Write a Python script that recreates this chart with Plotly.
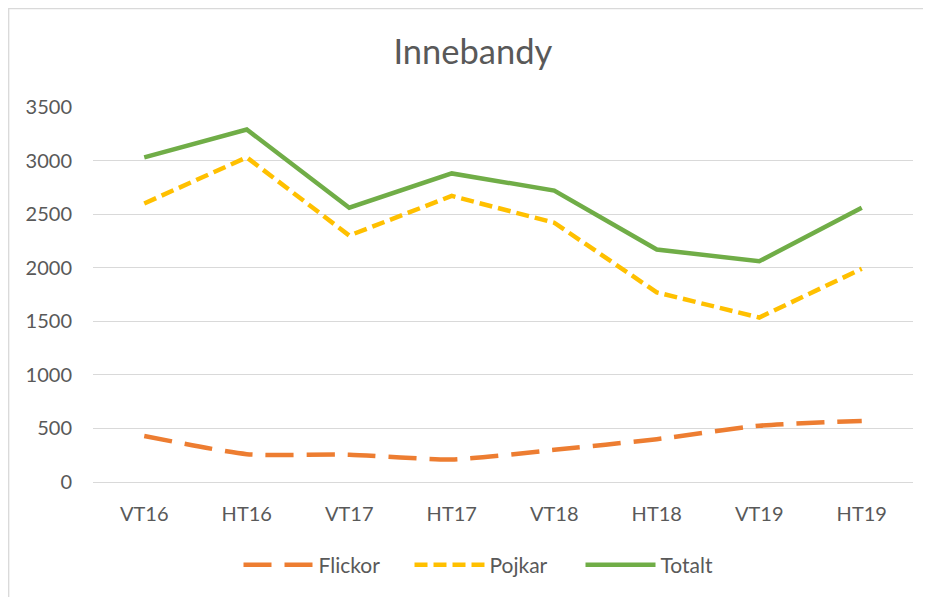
import plotly.graph_objects as go

categories = ["VT16", "HT16", "VT17", "HT17", "VT18", "HT18", "VT19", "HT19"]
flickor = [430, 260, 255, 210, 300, 400, 525, 570]
pojkar = [2600, 3030, 2300, 2670, 2420, 1770, 1535, 1990]
totalt = [3030, 3290, 2560, 2880, 2720, 2170, 2060, 2560]
y_ticks = [0, 500, 1000, 1500, 2000, 2500, 3000, 3500]

# page body has an 8px default margin; figure size/margins compensate
W, H = 923, 589
ml, mr, mt, mb = 85, 18, 99, 115
pw, ph = W - ml - mr, H - mt - mb

fig = go.Figure()
fig.add_trace(go.Scatter(x=categories, y=flickor, name="Flickor", mode="lines",
                         line=dict(color="#ED7D31", width=4.5, dash="28px,13px", shape="spline", smoothing=0.6)))
fig.add_trace(go.Scatter(x=categories, y=pojkar, name="Pojkar", mode="lines",
                         line=dict(color="#FFC000", width=4.5, dash="13px,6px")))
fig.add_trace(go.Scatter(x=categories, y=totalt, name="Totalt", mode="lines",
                         line=dict(color="#70AD47", width=4.5)))

font_family = "Lato, 'Open Sans', sans-serif"
fig.update_layout(
    width=W, height=H,
    margin=dict(l=ml, r=mr, t=mt, b=mb, autoexpand=False),
    paper_bgcolor="white", plot_bgcolor="white",
    font=dict(family=font_family, color="#595959", size=20),
    title=dict(text="Innebandy", x=0.5 + 3 / pw, xanchor="center",
               y=1 - 44 / H, yanchor="middle",
               font=dict(size=34.5, color="#595959", family=font_family)),
    showlegend=True,
    legend=dict(orientation="h", x=0.5 - 8 / pw, xanchor="center", y=-(557 - 474) / ph, yanchor="middle",
                font=dict(size=21, color="#595959"), itemwidth=70, traceorder="normal",
                entrywidth=86, entrywidthmode="pixels"),
    xaxis=dict(showgrid=False, showline=False, ticks="", tickfont=dict(size=20, color="#595959"),
               range=[-0.5, 7.5], fixedrange=True, ticklabelstandoff=18),
    yaxis=dict(range=[0, 3500], tickvals=y_ticks, showgrid=True, gridcolor="#D9D9D9", gridwidth=1.3,
               zeroline=True, zerolinecolor="#D9D9D9", zerolinewidth=1.3, ticks="",
               tickfont=dict(size=20, color="#595959"), ticklabelstandoff=20, showline=False),
    shapes=[dict(type="rect", xref="paper", yref="paper",
                 x0=(0.7 - ml) / pw, x1=(W + 20 - ml) / pw,
                 y0=-(H + 20 - (H - mb)) / ph, y1=(H - mb - 0.7) / ph,
                 line=dict(color="#D9D9D9", width=1.3), fillcolor="rgba(0,0,0,0)", layer="below")],
)

fig.write_html("out.html")
